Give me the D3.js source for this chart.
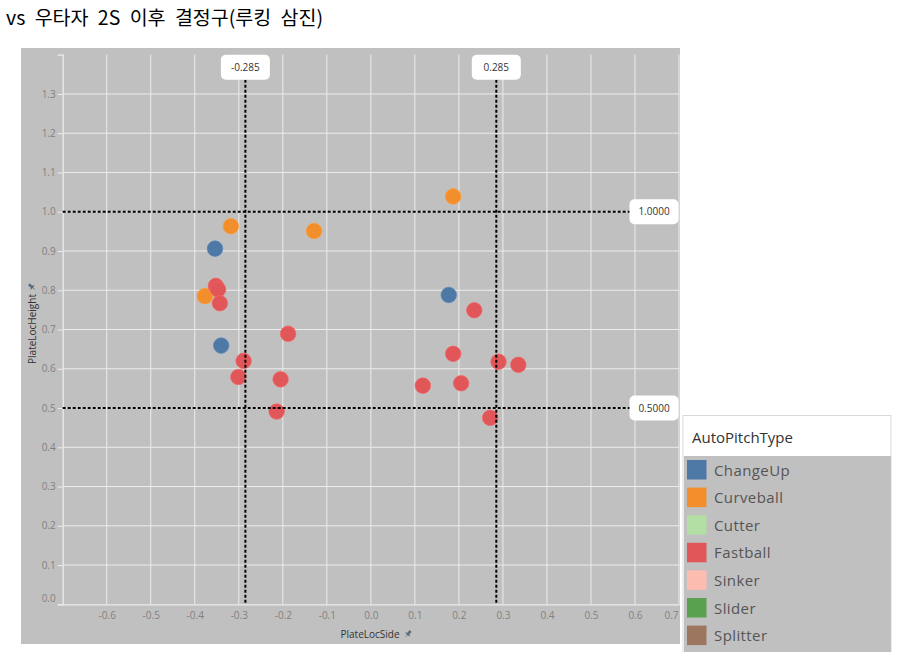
<!DOCTYPE html>
<html><head><meta charset="utf-8">
<script src="https://cdn.jsdelivr.net/npm/d3@7"></script>
<style>
body{margin:0;background:#fff;}
svg{display:block;font-family:"Open Sans",sans-serif;}
</style>
</head><body>
<svg id="c" width="907" height="652"></svg>
<script>
// ---- data ----
const chartTitle = "vs 우타자 2S 이후 결정구(루킹 삼진)";
const pitchTypes = ["ChangeUp","Curveball","Cutter","Fastball","Sinker","Slider","Splitter"];
const pitchColors = ["#4e79a7","#f28e2b","#b3dea4","#e15759","#fdbcb0","#59a14f","#9d7660"];
const changeUpSide   = [-0.354, -0.340, 0.177];
const changeUpHeight = [ 0.906,  0.659, 0.788];
const curveballSide   = [-0.318, -0.129, -0.377, 0.187];
const curveballHeight = [ 0.963,  0.951,  0.785, 1.039];
const fastballSide   = [-0.352, -0.347, -0.343, -0.188, -0.289, -0.301, -0.205, -0.214,
                         0.235,  0.187,  0.290,  0.335,  0.118,  0.205,  0.271];
const fastballHeight = [ 0.811,  0.802,  0.767,  0.689,  0.620,  0.579,  0.573,  0.491,
                         0.749,  0.638,  0.618,  0.610,  0.557,  0.563,  0.475];
const refSide   = [-0.285, 0.285];
const refHeight = [1.0, 0.5];
const xTicks = [-0.6,-0.5,-0.4,-0.3,-0.2,-0.1,0.0,0.1,0.2,0.3,0.4,0.5,0.6,0.7];
const yTicks = [0.0,0.1,0.2,0.3,0.4,0.5,0.6,0.7,0.8,0.9,1.0,1.1,1.2,1.3];
const xTitle = "PlateLocSide";
const yTitle = "PlateLocHeight";
const legendTitle = "AutoPitchType";

// build point table
const points = [];
function addSeries(type, xs, ys){ xs.forEach((v,i)=>points.push({type, x:v, y:ys[i]})); }
addSeries("ChangeUp", changeUpSide, changeUpHeight);
addSeries("Curveball", curveballSide, curveballHeight);
addSeries("Fastball", fastballSide, fastballHeight);

const svg = d3.select("#c");
const L = 62.7, R = 679, T = 54.7, B = 604.3;
const x = d3.scaleLinear().domain([-0.7, 0.7]).range([L, R]);
const y = d3.scaleLinear().domain([0, 1.4]).range([B, T]);
const color = d3.scaleOrdinal().domain(pitchTypes).range(pitchColors);

// title
svg.append("text").attr("x", 6).attr("y", 25)
  .style("font-family", '"Noto Sans CJK KR",sans-serif').style("font-size","19.5px")
  .attr("word-spacing", 5).attr("fill","#000").text(chartTitle);

// panel background
svg.append("rect").attr("x", 21).attr("y", 48).attr("width", 659).attr("height", 596).attr("fill", "#c0c0c0");

// grid
const grid = svg.append("g").attr("stroke", "#ececec").attr("stroke-width", 1);
grid.selectAll(".gx").data(xTicks).join("line")
  .attr("x1", d=>x(d)).attr("x2", d=>x(d)).attr("y1", T).attr("y2", B);
grid.selectAll(".gy").data(yTicks.filter(d=>d>0)).join("line")
  .attr("x1", L).attr("x2", R).attr("y1", d=>y(d)).attr("y2", d=>y(d));

// axes
const fmt = d => d.toFixed(1);
const yAxis = svg.append("g").attr("transform", `translate(${L},0)`)
  .call(d3.axisLeft(y).tickValues(yTicks).tickFormat(fmt).tickSize(5).tickPadding(2));
const xAxis = svg.append("g").attr("transform", `translate(0,${B})`)
  .call(d3.axisBottom(x).tickValues(xTicks).tickFormat(fmt).tickSize(0).tickPadding(8));
[yAxis, xAxis].forEach(a=>{
  a.select(".domain").attr("stroke", "#ececec").attr("stroke-width", 1.3);
  a.selectAll(".tick line").attr("stroke", "#ececec");
  a.selectAll(".tick text").attr("fill", "#808080").style("font-size", "10px").style("font-family", '"Open Sans",sans-serif');
});
// keep edge labels inside axis extent
yAxis.selectAll(".tick").filter(d=>d===0).select("text").attr("dy", "-0.3em");
xAxis.selectAll(".tick").filter(d=>d===0.7).select("text").attr("text-anchor","end").attr("dx", "-1px");

// axis titles
function pin(g, cx, cy, rot){
  g.append("path").attr("transform", `translate(${cx},${cy}) rotate(${rot})`)
    .attr("d", "M-1.5,-4 L1.5,-4 L1.2,-1 L3,1 L0.5,1 L0,5 L-0.5,1 L-3,1 L-1.2,-1 Z")
    .attr("fill", "#5a6b7d");
}
svg.append("text").attr("x", 370).attr("y", 638).attr("text-anchor","middle")
  .attr("fill","#333").style("font-size","10px").text(xTitle);
pin(svg, 408, 634, 40);
svg.append("text").attr("transform","translate(36,329) rotate(-90)").attr("text-anchor","middle")
  .attr("fill","#333").style("font-size","10px").text(yTitle);
pin(svg, 32, 287, -50);

// points
svg.append("g").selectAll("circle").data(points).join("circle")
  .attr("cx", d=>x(d.x)).attr("cy", d=>y(d.y)).attr("r", 7.8)
  .attr("fill", d=>color(d.type)).attr("stroke", d=>d3.color(color(d.type)).brighter(0.3)).attr("stroke-width", 0.6);

// reference lines
const ref = svg.append("g");
ref.selectAll(".rv").data(refSide).join("line")
  .attr("x1", d=>x(d)).attr("x2", d=>x(d)).attr("y1", T + 25).attr("y2", B)
  .attr("stroke", "#000").attr("stroke-width", 2).attr("stroke-dasharray", "3,2");
ref.selectAll(".rh").data(refHeight).join("line")
  .attr("x1", L).attr("x2", R - 49).attr("y1", d=>y(d)).attr("y2", d=>y(d))
  .attr("stroke", "#000").attr("stroke-width", 2).attr("stroke-dasharray", "3,2");
const vLab = ref.selectAll(".vl").data(refSide).join("g")
  .attr("transform", d=>`translate(${x(d)},${T + 12.5})`);
vLab.append("rect").attr("x",-24.5).attr("y",-12.5).attr("width",49).attr("height",25).attr("rx",5).attr("fill","#fff");
vLab.append("text").attr("text-anchor","middle").attr("dy","0.35em").attr("fill","#333")
  .style("font-size","10px").text(d=>d.toFixed(3));
const hLab = ref.selectAll(".hl").data(refHeight).join("g")
  .attr("transform", d=>`translate(${R - 25},${y(d)})`);
hLab.append("rect").attr("x",-24.5).attr("y",-12.5).attr("width",49).attr("height",25).attr("rx",5).attr("fill","#fff");
hLab.append("text").attr("text-anchor","middle").attr("dy","0.35em").attr("fill","#333")
  .style("font-size","10px").text(d=>d.toFixed(4));

// legend
const lg = svg.append("g");
lg.append("rect").attr("x", 683).attr("y", 415.5).attr("width", 208).attr("height", 240)
  .attr("fill", "#fff").attr("stroke", "#d9d9d9");
lg.append("rect").attr("x", 684).attr("y", 456).attr("width", 207).attr("height", 196).attr("fill", "#c0c0c0");
lg.append("text").attr("x", 692).attr("y", 443).attr("fill","#333").style("font-size","15px").text(legendTitle);
const items = lg.selectAll(".li").data(pitchTypes).join("g")
  .attr("transform", (d,i)=>`translate(687,${460 + i*27.6})`);
items.append("rect").attr("width", 19.5).attr("height", 19.5).attr("fill", d=>color(d));
items.append("text").attr("x", 27).attr("y", 15.5).attr("fill","#555").style("font-size","15px")
  .attr("letter-spacing", 0.4).text(d=>d);
</script>
</body></html>
